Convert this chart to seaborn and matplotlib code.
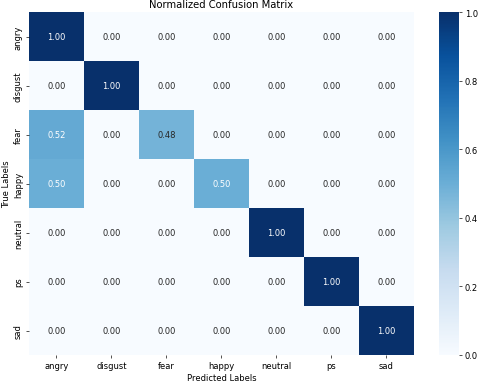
import numpy as np
import pandas as pd
import matplotlib
matplotlib.use('Agg')
import matplotlib.pyplot as plt
import seaborn as sns

# ── DATA ──────────────────────────────────────────────────────────────────
labels = ['angry', 'disgust', 'fear', 'happy', 'neutral', 'ps', 'sad']
row_angry = [1.00, 0.00, 0.00, 0.00, 0.00, 0.00, 0.00]
row_disgust = [0.00, 1.00, 0.00, 0.00, 0.00, 0.00, 0.00]
row_fear = [0.52, 0.00, 0.48, 0.00, 0.00, 0.00, 0.00]
row_happy = [0.50, 0.00, 0.00, 0.50, 0.00, 0.00, 0.00]
row_neutral = [0.00, 0.00, 0.00, 0.00, 1.00, 0.00, 0.00]
row_ps = [0.00, 0.00, 0.00, 0.00, 0.00, 1.00, 0.00]
row_sad = [0.00, 0.00, 0.00, 0.00, 0.00, 0.00, 1.00]

cm = pd.DataFrame([row_angry, row_disgust, row_fear, row_happy,
                   row_neutral, row_ps, row_sad],
                  index=labels, columns=labels)

# ── PLOT ──────────────────────────────────────────────────────────────────
fig = plt.figure(figsize=(8, 6.383), dpi=60)
ax = fig.add_axes([0.060, 0.0705, 0.8025, 0.8955])
cax = fig.add_axes([0.9146, 0.0705, 0.0417, 0.8955])
sns.heatmap(cm, annot=True, fmt='.2f', cmap='Blues', vmin=0, vmax=1,
            ax=ax, cbar_ax=cax)
ax.set_title('Normalized Confusion Matrix')
ax.set_xlabel('Predicted Labels')
ax.set_ylabel('True Labels')
fig.savefig('out.png', dpi=60)
